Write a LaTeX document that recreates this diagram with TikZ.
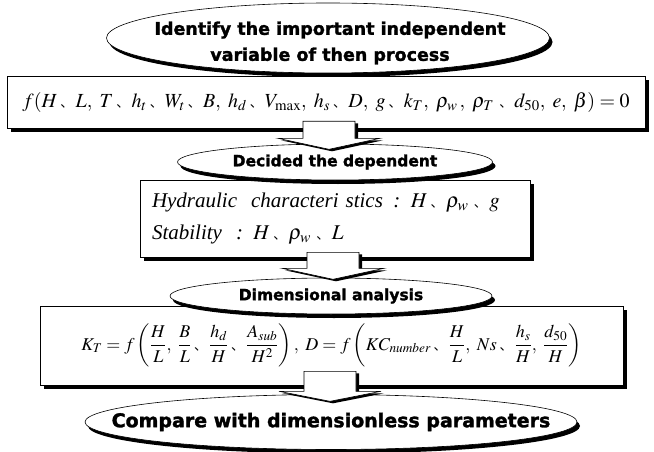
\documentclass[tikz,border=0pt]{standalone}
\usepackage{mathptmx}
\usepackage[no-math]{fontspec}
\setmainfont{Liberation Serif}
\newfontfamily\hdfont{DejaVu Sans}[BoldFeatures={FakeBold=1.6}]
\newfontfamily\cjkfont{Noto Sans CJK SC}
\usetikzlibrary{shapes.geometric,shadows,calc}
\newcommand\dn{\mathpunct{\mbox{\kern.15em\cjkfont\fontsize{13}{13}\selectfont 、}}}
\newcommand\cm{,\ }
\begin{document}
\begin{tikzpicture}[x=1pt,y=-1pt,
  ell/.style={ellipse, draw=black, line width=0.6pt, fill=white, inner sep=-100pt,
    general shadow={fill=black, shadow xshift=3pt, shadow yshift=-4pt},
    align=center},
  boxx/.style={rectangle, draw=black, line width=0.6pt, fill=white, inner sep=0pt,
    general shadow={fill=black, shadow xshift=3.5pt, shadow yshift=-4pt}},
  barrow/.style={draw=black, line width=0.6pt, fill=white,
    general shadow={fill=black, shadow xshift=3pt, shadow yshift=-2pt}}]
\useasboundingbox (0,0) rectangle (654,452);
% boxes
\node[boxx, minimum width=638pt, minimum height=52pt, font=\fontsize{20}{24}\selectfont] (b1) at (326,102)
  {$f(H\dn L\cm T\dn h_t\dn W_t\dn B\cm h_d\dn V_{\max}\cm h_s\dn D\cm g\dn k_T\cm \rho_w\,\cm \rho_T\,\dn d_{50}\cm e\cm \beta) = 0$};
\node[boxx, minimum width=390pt, minimum height=77pt, text width=366pt, inner xsep=12pt, align=left,
  font=\fontsize{21}{32}\selectfont\itshape] (b2) at (335,218.5)
  {Hydraulic \ characteri stics \,: $H\dn\rho_w\,\dn g$\\
   Stability \ : $H\dn\rho_w\,\dn L$};
\node[boxx, minimum width=583pt, minimum height=79pt, font=\fontsize{18}{22}\selectfont] (b3) at (331.5,345.5)
  {$\displaystyle K_T = f\left(\frac{H}{L}\cm \frac{B}{L}\dn \frac{h_d}{H}\dn \frac{A_{sub}}{H^2}\right),\
   D = f\left(KC_{number}\dn \frac{H}{L}\cm Ns\dn \frac{h_s}{H}\cm \frac{d_{50}}{H}\right)$};
% ellipses
\node[ell, minimum width=443pt, minimum height=70pt] (e1) at (328,38) {};
\node[font=\hdfont\bfseries\fontsize{17.5}{26}\selectfont, align=center, inner sep=0pt] (e1t) at (330,43)
  {Identify the important independent\\ variable of then process};
\node[ell, minimum width=315pt, minimum height=36pt, font=\hdfont\bfseries\fontsize{15.5}{18}\selectfont] (e2) at (335,162)
  {Decided the dependent};
\node[ell, minimum width=322pt, minimum height=36pt, font=\hdfont\bfseries\fontsize{15.5}{18}\selectfont] (e3) at (331,296)
  {Dimensional analysis};
\node[ell, minimum width=492pt, minimum height=55pt, font=\hdfont\bfseries\fontsize{19}{22}\selectfont] (e4) at (331,422)
  {Compare with dimensionless parameters};
% block arrows (connectors)
\coordinate (a1) at ($(b1.south)+(3,-7)$);
\coordinate (a2) at ($(b2.south)+(-2,-5)$);
\coordinate (a3) at ($(b3.south)+(-1.5,-14)$);
\draw[barrow] ($(a1)+(-26,0)$) -- ++(52,0) -- ++(0,17) -- ++(25,0) -- ++(-51,11) -- ++(-51,-11) -- ++(25,0) -- cycle;
\draw[barrow] ($(a2)+(-26,0)$) -- ++(52,0) -- ++(0,16) -- ++(25,0) -- ++(-51,11) -- ++(-51,-11) -- ++(25,0) -- cycle;
\draw[barrow] ($(a3)+(-26,0)$) -- ++(52,0) -- ++(0,20) -- ++(25,0) -- ++(-51,10) -- ++(-51,-10) -- ++(25,0) -- cycle;
\end{tikzpicture}
\end{document}
